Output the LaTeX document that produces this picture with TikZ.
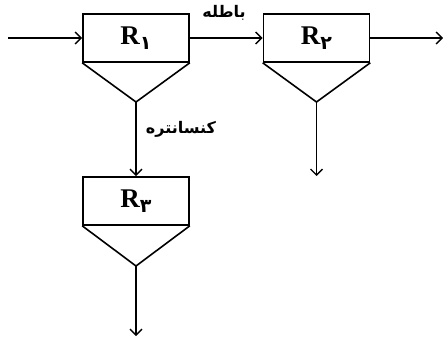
\documentclass[tikz,border=0pt]{standalone}
\usepackage{fontspec}
\usetikzlibrary{arrows.meta}
\TeXXeTstate=1
\newfontfamily\arabicfont[Script=Arabic]{DejaVu Sans}
\setmainfont{Liberation Serif}
\tikzset{
  unitbox/.style={draw, line width=1.6pt, minimum width=106pt, minimum height=48pt, inner sep=0pt, font=\fontsize{27}{29}\selectfont\bfseries},
  flow/.style={line width=1.5pt, -{Straight Barb[length=6pt,width=12pt,line width=1.4pt]}},
  hopper/.style={line width=1.6pt},
  lbl/.style={font=\arabicfont\bfseries\fontsize{16}{18}\selectfont, inner sep=1pt}
}
\newcommand{\psub}[1]{\raisebox{-0.4ex}{\arabicfont\bfseries\fontsize{19}{20}\selectfont #1}}
\begin{document}
\begin{tikzpicture}[x=1pt,y=-1pt]
\useasboundingbox (0,0) rectangle (443,339);
% units
\node[unitbox] (r1) at (136,38) {R\psub{۱}};
\node[unitbox] (r2) at (316.5,38) {R\psub{۲}};
\node[unitbox] (r3) at (136,201) {R\psub{۳}};
% hopper apexes
\coordinate (a1) at (136,102);
\coordinate (a2) at (316.5,102);
\coordinate (a3) at (136,266);
\draw[hopper] (r1.south west) -- (a1) -- (r1.south east);
\draw[hopper] (r2.south west) -- (a2) -- (r2.south east);
\draw[hopper] (r3.south west) -- (a3) -- (r3.south east);
% free ends
\coordinate (in) at (8,38);
\coordinate (out) at (443,38);
\coordinate (d2) at (316.5,176);
\coordinate (d3) at (136,336);
% connectors
\draw[flow] (in) -- (r1.west);
\draw[flow] (r1.east) -- (r2.west);
\draw[flow] (r2.east) -- (out);
\draw[flow] (a1) -- (r3.north);
\draw[flow] (a2) -- (d2);
\draw[flow] (a3) -- (d3);
% labels
\node[lbl] (l1) at (224,13) {\beginR باطله\endR};
\node[lbl] (l2) at (181,129) {\beginR کنسانتره\endR};
\end{tikzpicture}
\end{document}
